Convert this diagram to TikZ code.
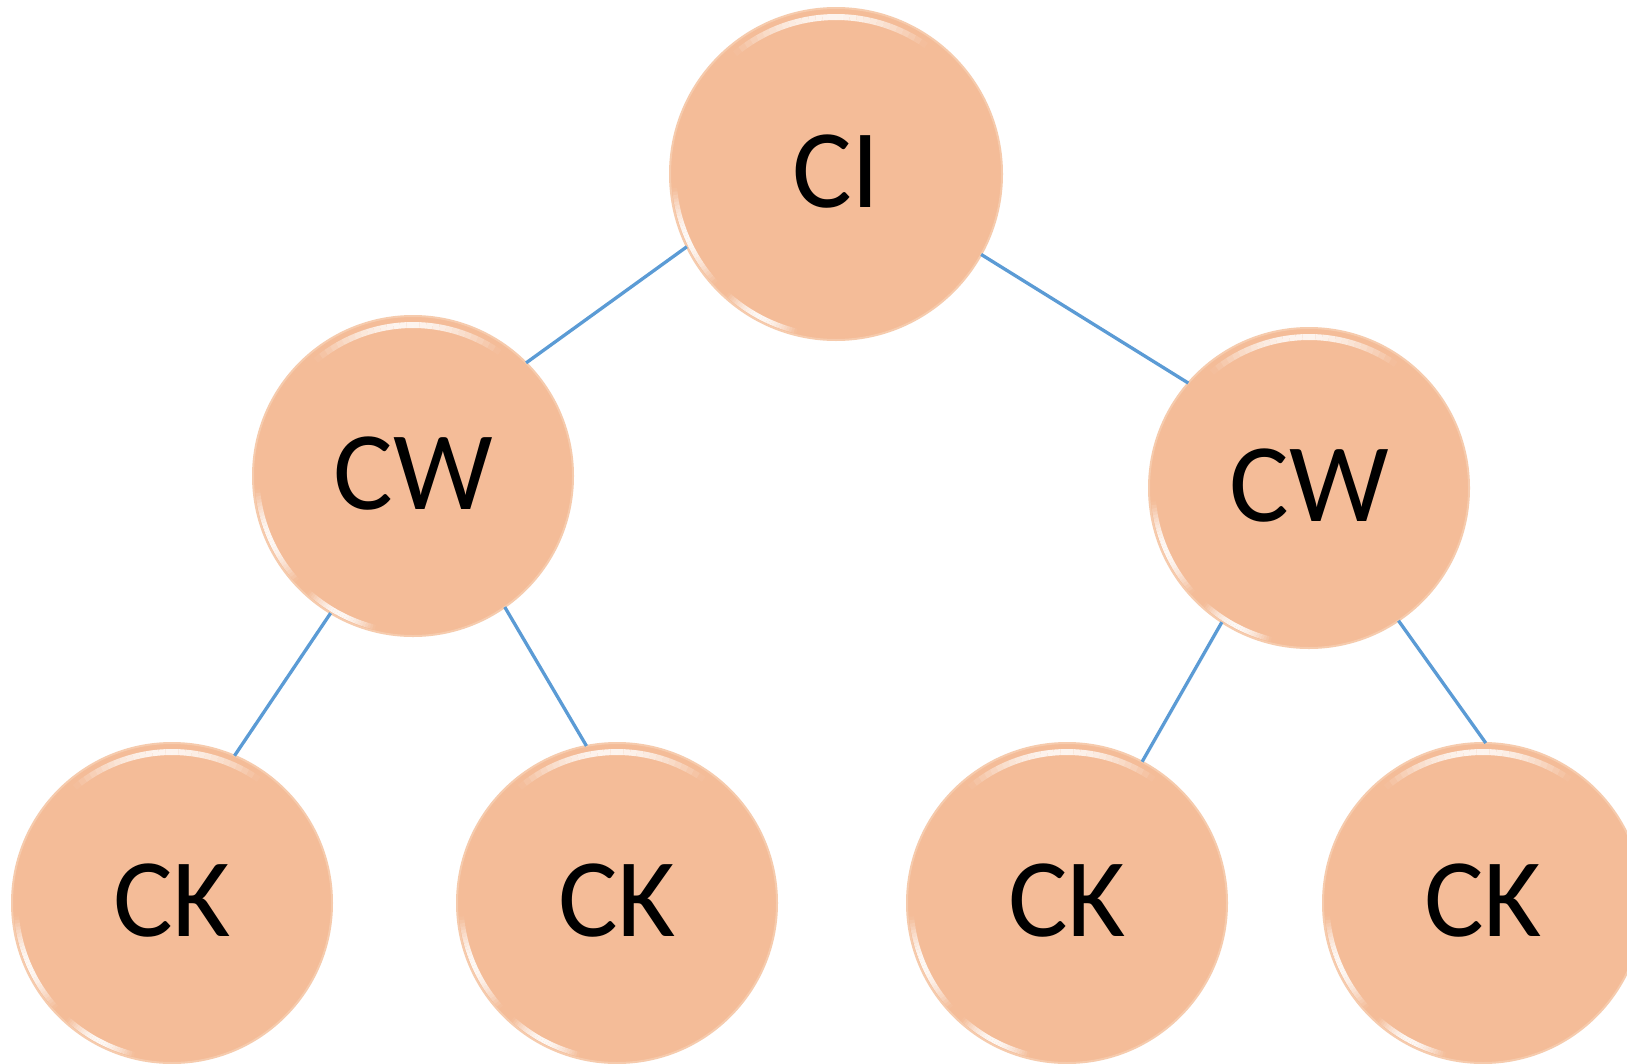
\documentclass[tikz,border=0pt]{standalone}
\usepackage{fontspec}
\setmainfont{Carlito}
\definecolor{peach}{HTML}{F4BC98}
\definecolor{peachedge}{HTML}{F6CBAD}
\definecolor{linkblue}{HTML}{5B9BD5}
% smooth glow arc: #1 start angle, #2 end angle, #3 radius, #4 width, #5 max opacity
\newcommand\glowarc[5]{%
  \foreach \i in {0,...,29}{%
    \pgfmathsetmacro\aa{#1+(#2-#1)*\i/30}%
    \pgfmathsetmacro\bb{#1+(#2-#1)*(\i+1)/30}%
    \pgfmathsetmacro\op{#5*sin(180*(\i+0.5)/30)}%
    \draw[white, line width=#4, opacity=\op] (\aa:#3) arc[start angle=\aa, end angle=\bb, radius=#3];
  }}
\newcommand\glossball[2]{%
  \begin{scope}[shift={(#1.center)}, x=1pt, y=1pt]
    \glowarc{55}{130}{#2-9}{6pt}{0.85}
    \glowarc{185}{222}{#2-4}{5pt}{0.9}
    \glowarc{228}{256}{#2-4}{5pt}{0.9}
  \end{scope}}
\begin{document}
\begin{tikzpicture}[x=1pt, y=-1pt,
  ball/.style={circle, fill=peach, draw=peachedge, line width=2pt, inner sep=0pt, outer sep=0pt,
    minimum size=320pt, font=\fontsize{112}{130}\selectfont, text height=72pt, text depth=6pt},
  bigball/.style={ball, minimum size=332pt},
  link/.style={draw=linkblue, line width=3.3pt}]
\useasboundingbox (0,0) rectangle (1627,1063);
\fill[white] (0,0) rectangle (1627,1063);

\node[bigball] (ci)  at (836,174) {CI};
\node[ball]    (cwl) at (413,476) {CW};
\node[ball]    (cwr) at (1309,488) {CW};
\node[ball]    (ck1) at (172,903) {CK};
\node[ball]    (ck2) at (617,903) {CK};
\node[ball]    (ck3) at (1067,903) {CK};
\node[ball]    (ck4) at (1483,903) {CK};

\glossball{ci}{166}
\glossball{cwl}{160}
\glossball{cwr}{160}
\glossball{ck1}{160}
\glossball{ck2}{160}
\glossball{ck3}{160}
\glossball{ck4}{160}

\draw[link] (ci.206) -- (cwl.45);
\draw[link] (ci.331) -- (cwr.139);
\draw[link] (cwl.239) -- (ck1.67);
\draw[link] (cwl.305) -- (ck2.101);
\draw[link] (cwr.237) -- (ck3.62);
\draw[link] (cwr.304.5) -- (ck4.89);
\end{tikzpicture}
\end{document}
